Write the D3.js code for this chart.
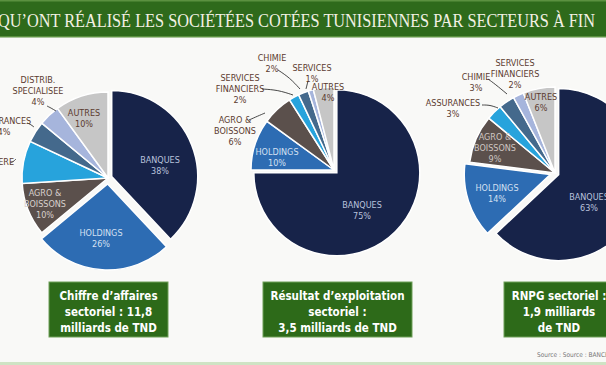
<!DOCTYPE html>
<html><head><meta charset="utf-8">
<script src="https://cdn.jsdelivr.net/npm/d3@7"></script>
<style>
html,body{margin:0;padding:0;background:#f9f9f7;}
svg{display:block;}
</style></head>
<body>
<svg id="c" width="606" height="365"></svg>
<script>
// ---------- DATA ----------
const title = "QU\u2019ONT RÉALISÉ LES SOCIÉTÉES COTÉES TUNISIENNES PAR SECTEURS À FIN";

const pie1Sectors = ["BANQUES","HOLDINGS","AGRO & BOISSONS","INDUSTRIE MANUFACTURIERE","ASSURANCES","DISTRIB. SPECIALISEE","AUTRES"];
const pie1Values  = [38, 26, 10, 8, 4, 4, 10];

const pie2Sectors = ["BANQUES","HOLDINGS","AGRO & BOISSONS","SERVICES FINANCIERS","CHIMIE","SERVICES","AUTRES"];
const pie2Values  = [75, 10, 6, 2, 2, 1, 4];

const pie3Sectors = ["BANQUES","HOLDINGS","AGRO & BOISSONS","ASSURANCES","CHIMIE","SERVICES FINANCIERS","AUTRES"];
const pie3Values  = [63, 14, 9, 3, 3, 2, 6];

const boxTexts = [
  ["Chiffre d\u2019affaires","sectoriel : 11,8","milliards de TND"],
  ["Résultat d\u2019exploitation","sectoriel :","3,5 milliards de TND"],
  ["RNPG sectoriel :","1,9 milliards","de TND"]
];
const sourceText = "Source : Source : BANCE C";

// ---------- STYLE / LAYOUT ----------
const sliceColors = ["#172349","#2d6cb3","#5b504c","#27a3dc","#44698c","#a6b5dc","#c6c6c6"];
const brown = "#5b3b2f";
const labelFont = "'Liberation Sans Narrow','DejaVu Sans Condensed',sans-serif";

const pieLayout = [
  {cx:108, cy:178, r:86, explode:[4,6,0,0,0,0,0]},
  {cx:334, cy:170, r:83, explode:[4,0,0,0,0,0,0]},
  {cx:555, cy:173, r:86, explode:[4,5,0,0,0,0,0]}
];
// label annotations: [sliceIndex, x, y(center of first line), color, name lines, anchor]
const pieLabels = [
  [
    [0,160,160,"#b9c2dc",["BANQUES"],"middle"],
    [1,101,233,"#d4e0f2",["HOLDINGS"],"middle"],
    [2,45,193,"#d8d0cc",["AGRO &","BOISSONS"],"middle"],
    [6,84,113,brown,["AUTRES"],"middle"],
    [5,38,80,brown,["DISTRIB.","SPECIALISEE"],"middle"],
    [4,4,121,brown,["ASSURANCES"],"middle"],
    [3,-23,151,brown,["INDUSTRIE","MANUFACTURIERE"],"middle"]
  ],
  [
    [0,362,205,"#b9c2dc",["BANQUES"],"middle"],
    [1,277,152,"#d4e0f2",["HOLDINGS"],"middle"],
    [2,235,120,brown,["AGRO &","BOISSONS"],"middle"],
    [3,240,78,brown,["SERVICES","FINANCIERS"],"middle"],
    [4,272,58,brown,["CHIMIE"],"middle"],
    [5,312,68,brown,["SERVICES"],"middle"],
    [6,328,87,brown,["AUTRES"],"middle"]
  ],
  [
    [0,589,197,"#b9c2dc",["BANQUES"],"middle"],
    [1,497,188,"#d4e0f2",["HOLDINGS"],"middle"],
    [2,495,137,"#cfc6c2",["AGRO &","BOISSONS"],"middle"],
    [3,453,103,brown,["ASSURANCES"],"middle"],
    [4,476,77,brown,["CHIMIE"],"middle"],
    [5,515,63,brown,["SERVICES","FINANCIERS"],"middle"],
    [6,541,97,brown,["AUTRES"],"middle"]
  ]
];
const leaders = [
  [[[47,106],[51,108],[56,111]], [[27,123],[30,124],[34,127]], [[10,163],[13,162],[16,159]]],
  [[[278,70],[290,78],[300,89]], [[308,81],[307,85],[306,89]], [[262,89],[278,90],[293,95]], [[249,120],[258,116],[265,113]]],
  [[[488,79],[495,84],[507,94]], [[482,105],[490,105],[498,108]]]
];

// ---------- DRAW ----------
const svg = d3.select("#c");
svg.append("rect").attr("width",606).attr("height",365).attr("fill","#f9f9f7");

// header
svg.append("rect").attr("x",0).attr("y",0).attr("width",606).attr("height",37).attr("fill","#2e6a1b");
svg.append("rect").attr("x",0).attr("y",0).attr("width",606).attr("height",1.5).attr("fill","#5b9140");
svg.append("rect").attr("x",0).attr("y",36).attr("width",606).attr("height",1.5).attr("fill","#5b9140");
svg.append("text").attr("x",-2).attr("y",27)
  .attr("font-family","'Liberation Serif','DejaVu Serif',serif").attr("font-size",19.5)
  .attr("fill","#f3f1e4").attr("textLength",597).attr("lengthAdjust","spacingAndGlyphs")
  .text(title);

const allValues = [pie1Values, pie2Values, pie3Values];
const pieGen = d3.pie().sort(null).value(d=>d);

allValues.forEach((vals, pi) => {
  const L = pieLayout[pi];
  const arc = d3.arc().innerRadius(0).outerRadius(L.r);
  const arcs = pieGen(vals);
  const g = svg.append("g").attr("transform",`translate(${L.cx},${L.cy})`);
  g.selectAll("path").data(arcs).join("path")
    .attr("d", arc)
    .attr("fill",(d,i)=>sliceColors[i])
    .attr("stroke","#ffffff").attr("stroke-width",1.5)
    .attr("transform",(d,i)=>{
      const a=(d.startAngle+d.endAngle)/2, e=L.explode[i];
      return `translate(${e*Math.sin(a)},${-e*Math.cos(a)})`;
    });
  // leaders
  leaders[pi].forEach(pts=>{
    svg.append("path").attr("d", d3.line().curve(d3.curveBasis)(pts))
      .attr("fill","none").attr("stroke","#333").attr("stroke-width",0.9);
  });
  // labels
  pieLabels[pi].forEach(([si,x,y,col,lines,anchor])=>{
    const t = svg.append("text").attr("text-anchor",anchor)
      .attr("font-family",labelFont).attr("font-size",9).attr("fill",col);
    const all = lines.concat([vals[si]+"%"]);
    all.forEach((ln,k)=>{
      t.append("tspan").attr("x",x).attr("y",y+3+k*11).text(ln);
    });
  });
});

// boxes
const boxes = [{x:49,w:119,cx:108.5},{x:263,w:149,cx:337.5},{x:504,w:110,cx:559}];
boxes.forEach((b,i)=>{
  svg.append("rect").attr("x",b.x).attr("y",282).attr("width",b.w).attr("height",55)
    .attr("fill","#2d6a19").attr("stroke","#6f9f58").attr("stroke-width",1);
  const t = svg.append("text").attr("text-anchor","middle")
    .attr("font-family","'DejaVu Sans Condensed','DejaVu Sans',sans-serif")
    .attr("font-weight","bold").attr("font-size",11.5).attr("fill","#ffffff");
  boxTexts[i].forEach((ln,k)=>t.append("tspan").attr("x",b.cx).attr("y",300+k*16).text(ln));
});

// source + bottom line
svg.append("text").attr("x",537).attr("y",357).attr("font-family",labelFont)
  .attr("font-size",6.5).attr("fill","#777").text(sourceText);
svg.append("rect").attr("x",0).attr("y",362).attr("width",606).attr("height",3).attr("fill","#cfe3c4");
</script>
</body></html>
